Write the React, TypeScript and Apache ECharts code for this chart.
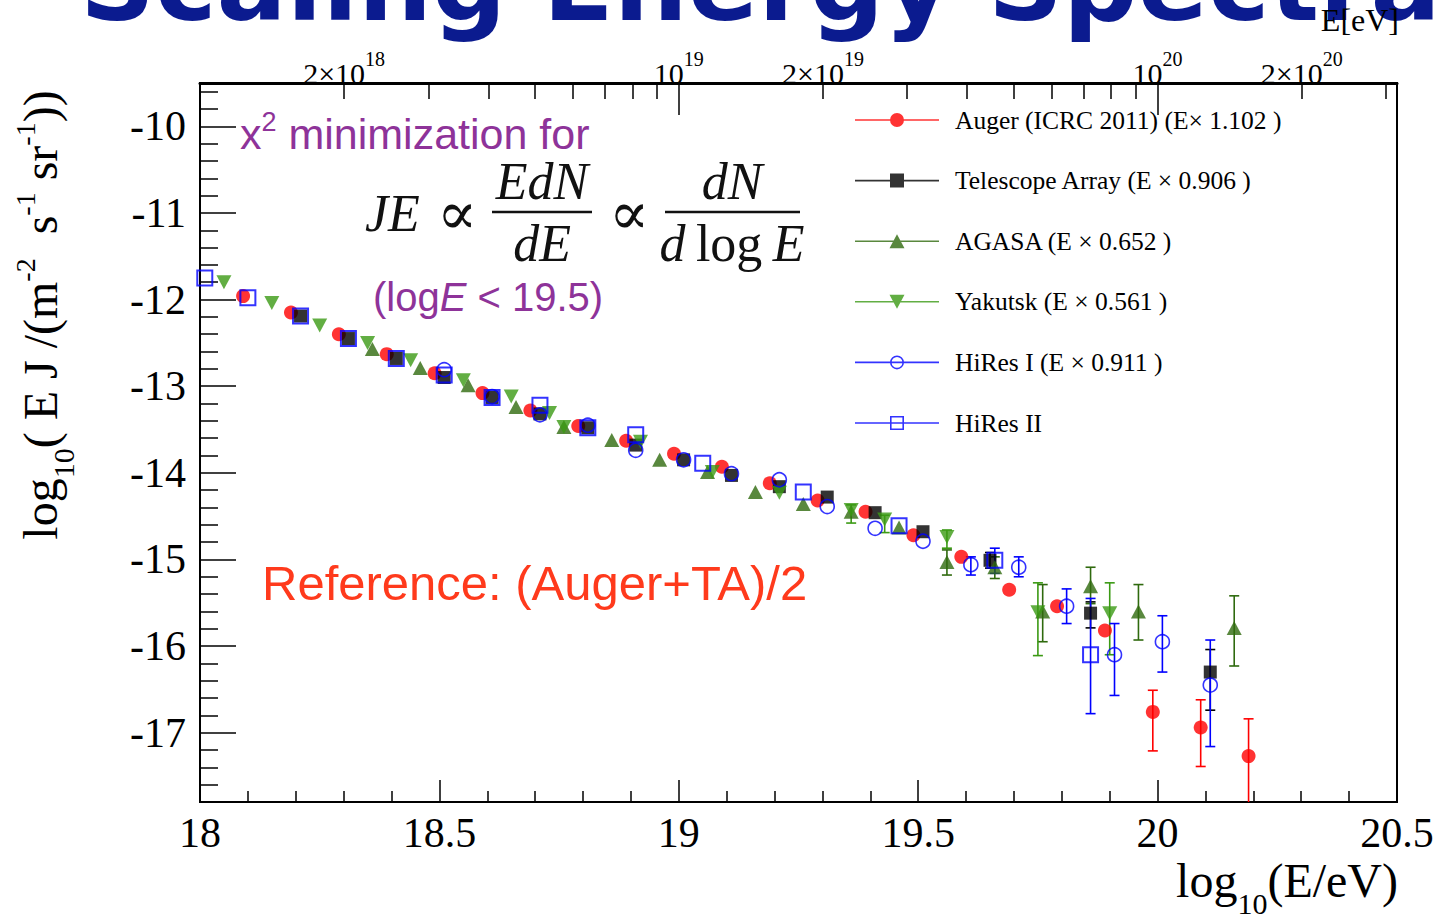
import React, { useEffect, useRef } from "react";
import * as echarts from "echarts";

// ---------- Flux points: x = log10(E/eV), y = log10(E J / (m^-2 s^-1 sr^-1)) ----------
const augerLogE = [18.09, 18.19, 18.29, 18.39, 18.49, 18.59, 18.69, 18.79, 18.89, 18.99, 19.09, 19.19, 19.29, 19.39, 19.49, 19.59, 19.69, 19.79, 19.89, 19.99, 20.09, 20.19];
const augerFlux = [-11.96, -12.15, -12.4, -12.63, -12.85, -13.08, -13.28, -13.46, -13.63, -13.78, -13.93, -14.12, -14.32, -14.45, -14.72, -14.97, -15.35, -15.54, -15.82, -16.76, -16.94, -17.27];
// error bars: [log10 E, upper edge, lower edge]
const augerErrors = [[19.99, -16.51, -17.21], [20.09, -16.62, -17.39], [20.19, -16.84, -18.3]];

const taLogE = [18.21, 18.31, 18.41, 18.51, 18.61, 18.71, 18.81, 18.91, 19.01, 19.11, 19.21, 19.31, 19.41, 19.51, 19.65, 19.86, 20.11];
const taFlux = [-12.19, -12.45, -12.68, -12.9, -13.13, -13.32, -13.48, -13.68, -13.85, -14.03, -14.16, -14.28, -14.46, -14.68, -15.01, -15.62, -16.3];
const taErrors = [[19.65, -14.92, -15.1], [19.86, -15.49, -15.79], [20.11, -16.04, -16.74]];

const agasaLogE = [18.36, 18.46, 18.56, 18.66, 18.76, 18.86, 18.96, 19.06, 19.16, 19.26, 19.36, 19.46, 19.56, 19.66, 19.76, 19.86, 19.96, 20.16];
const agasaFlux = [-12.57, -12.79, -12.99, -13.24, -13.47, -13.62, -13.85, -13.99, -14.22, -14.36, -14.45, -14.63, -15.03, -15.09, -15.6, -15.31, -15.6, -15.79];
const agasaErrors = [[19.56, -14.89, -15.18], [19.66, -14.97, -15.22], [19.76, -15.29, -15.95], [19.86, -15.09, -15.51], [19.96, -15.29, -15.93], [20.16, -15.42, -16.23]];

const yakutskLogE = [18.05, 18.15, 18.25, 18.35, 18.44, 18.55, 18.65, 18.73, 18.76, 18.92, 19.07, 19.21, 19.36, 19.43, 19.56, 19.75, 19.9];
const yakutskFlux = [-11.8, -12.04, -12.3, -12.5, -12.7, -12.93, -13.12, -13.31, -13.47, -13.64, -13.99, -14.23, -14.43, -14.54, -14.74, -15.61, -15.62];
const yakutskErrors = [[19.36, -14.37, -14.58], [19.43, -14.49, -14.69], [19.56, -14.66, -14.87], [19.75, -15.27, -16.11], [19.9, -15.27, -16.1]];

const hires1LogE = [18.51, 18.61, 18.71, 18.81, 18.91, 19.01, 19.11, 19.21, 19.31, 19.41, 19.51, 19.61, 19.71, 19.81, 19.91, 20.01, 20.11];
const hires1Flux = [-12.81, -13.12, -13.33, -13.45, -13.74, -13.85, -14.01, -14.08, -14.39, -14.64, -14.79, -15.06, -15.09, -15.54, -16.1, -15.95, -16.45];
const hires1Errors = [[19.61, -14.97, -15.18], [19.71, -14.97, -15.2], [19.81, -15.34, -15.74], [19.91, -15.74, -16.57], [20.01, -15.65, -16.3], [20.11, -15.93, -17.16]];

const hires2LogE = [18.01, 18.1, 18.21, 18.31, 18.41, 18.51, 18.61, 18.71, 18.81, 18.91, 19.05, 19.26, 19.46, 19.66, 19.86];
const hires2Flux = [-11.75, -11.98, -12.19, -12.45, -12.68, -12.87, -13.13, -13.22, -13.48, -13.56, -13.89, -14.22, -14.61, -15.01, -16.1];
const hires2Errors = [[19.66, -14.87, -15.16], [19.86, -15.45, -16.78]];

// ---------- Legend entries ----------
const legendLabels = [
  "Auger (ICRC 2011) (E× 1.102 )",
  "Telescope Array (E × 0.906 )",
  "AGASA (E × 0.652 )",
  "Yakutsk (E × 0.561 )",
  "HiRes I (E × 0.911 )",
  "HiRes II",
];

// ---------- Axis ticks ----------
const leftMajorTicks = [-17, -16, -15, -14, -13, -12, -11, -10];
const leftMinorTicks = [
  -17.6, -17.4, -17.2, -16.8, -16.6, -16.4, -16.2, -15.8, -15.6, -15.4, -15.2,
  -14.8, -14.6, -14.4, -14.2, -13.8, -13.6, -13.4, -13.2, -12.8, -12.6, -12.4, -12.2,
  -11.8, -11.6, -11.4, -11.2, -10.8, -10.6, -10.4, -10.2, -9.8, -9.6,
];
const topLabelEnergies = [2e18, 1e19, 2e19, 1e20, 2e20];
const topMinorEnergies = [2e18, 3e18, 4e18, 5e18, 6e18, 7e18, 8e18, 9e18, 2e19, 3e19, 4e19, 5e19, 6e19, 7e19, 8e19, 9e19, 2e20, 3e20];
const topMajorEnergies = [1e19, 1e20];

const SERIF = '"Liberation Serif", "Times New Roman", Times, serif';
const SANS = '"Liberation Sans", Arial, Helvetica, sans-serif';

const C_AUGER = "#ff0000";
const C_TA = "#000000";
const C_AGASA = "#2f6a0e";
const C_YAKUTSK = "#3b9a14";
const C_HIRES = "#0000ff";
const C_PURPLE = "#8e3399";
const C_REF = "#ff3a1c";
const C_MATH = "#111111";

// legend icons: horizontal line with the marker in the middle (84 x 14 box)
const LINE = "M0,6.2 L84,6.2 L84,7.8 L0,7.8 Z";
const legendIcons = [
  `path://${LINE} M35,7 A7,7 0 1 1 49,7 A7,7 0 1 1 35,7 Z`,
  `path://${LINE} M35,0 L49,0 L49,14 L35,14 Z`,
  `path://${LINE} M42,0 L49.5,14 L34.5,14 Z`,
  `path://${LINE} M34.5,0 L49.5,0 L42,14 Z`,
  `path://${LINE} M35,7 A7,7 0 1 1 49,7 A7,7 0 1 1 35,7 Z M36.6,7 A5.4,5.4 0 1 0 47.4,7 A5.4,5.4 0 1 0 36.6,7 Z`,
  `path://${LINE} M35,0 L49,0 L49,14 L35,14 Z M36.6,1.6 L36.6,12.4 L47.4,12.4 L47.4,1.6 Z`,
];
const legendColors = [C_AUGER, C_TA, C_AGASA, C_YAKUTSK, C_HIRES, C_HIRES];

const pairs = (xs: number[], ys: number[]) => xs.map((x, i) => [x, ys[i]]);

function errorBars(name: string, color: string, data: number[][]) {
  return {
    type: "custom",
    name,
    xAxisIndex: 0,
    yAxisIndex: 0,
    clip: true,
    silent: true,
    data,
    encode: { x: 0, y: [1, 2] },
    renderItem: (_params: any, api: any) => {
      const x = api.value(0);
      const hi = api.coord([x, api.value(1)]);
      const lo = api.coord([x, api.value(2)]);
      const cap = 5;
      const style = { stroke: color, lineWidth: 1.6 };
      return {
        type: "group",
        children: [
          { type: "line", shape: { x1: hi[0], y1: hi[1], x2: lo[0], y2: lo[1] }, style },
          { type: "line", shape: { x1: hi[0] - cap, y1: hi[1], x2: hi[0] + cap, y2: hi[1] }, style },
          { type: "line", shape: { x1: lo[0] - cap, y1: lo[1], x2: lo[0] + cap, y2: lo[1] }, style },
        ],
      };
    },
  };
}

function markers(name: string, data: number[][], symbol: string, size: any, itemStyle: any, rotate = 0) {
  return {
    type: "scatter",
    name,
    xAxisIndex: 0,
    yAxisIndex: 0,
    data,
    symbol,
    symbolSize: size,
    symbolRotate: rotate,
    itemStyle,
    emphasis: { disabled: true },
  };
}

// rich-text helper: every token gets the same box height H so that
// superscripts / subscripts are placed with padding alone
function tok(fontSize: number, H: number, center: number, extra: any = {}) {
  const top = Math.round(center - fontSize / 2);
  return {
    fontSize,
    lineHeight: fontSize,
    padding: [top, 0, H - fontSize - top, 0],
    ...extra,
  };
}

function topLabel(v: number) {
  const exp = Math.floor(v + 1e-9);
  const mant = Math.round(Math.pow(10, v - exp));
  return mant === 1 ? `{b|10}{s|${exp}}` : `{b|${mant}×10}{s|${exp}}`;
}

export default function App() {
  const ref = useRef<HTMLDivElement>(null);

  useEffect(() => {
    if (!ref.current) return;
    const chart = echarts.init(ref.current, null, { renderer: "svg" });

    const axisText = { fontFamily: SERIF, color: "#000" };
    const mathText = (text: string, x: number, y: number, italic = true) => ({
      type: "text",
      x,
      y,
      silent: true,
      style: {
        text,
        fontFamily: SERIF,
        fontStyle: italic ? "italic" : "normal",
        fontSize: 52,
        fill: C_MATH,
        align: "center",
        verticalAlign: "middle",
      },
    });
    const propTo = (x: number) => ({
      type: "text",
      x,
      y: 213,
      silent: true,
      style: { text: "∝", fontFamily: '"DejaVu Serif", serif', fontSize: 60, fill: C_MATH, align: "center", verticalAlign: "middle" },
    });

    const option: any = {
      animation: false,
      backgroundColor: "#ffffff",
      grid: {
        left: 200,
        right: 40,
        top: 83,
        bottom: 117,
        show: true,
        borderColor: "#000",
        borderWidth: 2,
        backgroundColor: "transparent",
        containLabel: false,
        outerBoundsMode: "none",
      },
      xAxis: [
        {
          type: "value",
          position: "bottom",
          min: 18,
          max: 20.5,
          interval: 0.5,
          axisLine: { show: true, onZero: false, lineStyle: { color: "#000", width: 2 } },
          axisTick: { show: true, inside: true, length: 22, lineStyle: { color: "#000", width: 1.5 } },
          minorTick: { show: true, splitNumber: 5, length: 11, lineStyle: { color: "#000", width: 1.5 } },
          axisLabel: { ...axisText, fontSize: 42, margin: 10, formatter: (v: number) => String(v) },
          splitLine: { show: false },
        },
        {
          type: "value",
          position: "top",
          min: 18,
          max: 20.5,
          axisLine: { show: true, onZero: false, lineStyle: { color: "#000", width: 3 } },
          axisTick: {
            show: true,
            inside: true,
            length: 16,
            customValues: topMinorEnergies.map(Math.log10),
            lineStyle: { color: "#000", width: 1.5 },
          },
          axisLabel: {
            show: true,
            margin: 0,
            customValues: topLabelEnergies.map(Math.log10),
            formatter: topLabel,
            rich: {
              b: tok(30, 40, 25, { fontFamily: SERIF, color: "#000" }),
              s: tok(20, 40, 11, { fontFamily: SERIF, color: "#000" }),
            },
          },
          splitLine: { show: false },
        },
        {
          type: "value",
          position: "top",
          min: 18,
          max: 20.5,
          axisLine: { show: false },
          axisTick: {
            show: true,
            inside: true,
            length: 32,
            customValues: topMajorEnergies.map(Math.log10),
            lineStyle: { color: "#000", width: 1.5 },
          },
          axisLabel: { show: false },
          splitLine: { show: false },
        },
      ],
      yAxis: [
        {
          type: "value",
          position: "left",
          min: -17.8,
          max: -9.5,
          axisLine: { show: true, onZero: false, lineStyle: { color: "#000", width: 2 } },
          axisTick: {
            show: true,
            inside: true,
            length: 36,
            customValues: leftMajorTicks,
            lineStyle: { color: "#000", width: 1.5 },
          },
          axisLabel: {
            ...axisText,
            fontSize: 42,
            margin: 14,
            customValues: leftMajorTicks,
            formatter: (v: number) => String(Math.round(v)),
          },
          splitLine: { show: false },
        },
        {
          type: "value",
          position: "left",
          min: -17.8,
          max: -9.5,
          axisLine: { show: false },
          axisTick: {
            show: true,
            inside: true,
            length: 18,
            customValues: leftMinorTicks,
            lineStyle: { color: "#000", width: 1.5 },
          },
          axisLabel: { show: false },
          splitLine: { show: false },
        },
      ],
      legend: {
        orient: "vertical",
        left: 855,
        top: 106,
        padding: 0,
        itemWidth: 84,
        itemHeight: 14,
        itemGap: 32.6,
        selectedMode: false,
        textStyle: { fontFamily: SERIF, fontSize: 25.5, color: "#000", lineHeight: 28, padding: [0, 0, 0, 11] },
        data: legendLabels.map((name, i) => ({
          name,
          icon: legendIcons[i],
          itemStyle: { color: legendColors[i], borderWidth: 0 },
        })),
      },
      series: [
        errorBars("auger-err", C_AUGER, augerErrors),
        markers(legendLabels[0], pairs(augerLogE, augerFlux), "circle", 14, { color: C_AUGER }),
        errorBars("ta-err", C_TA, taErrors),
        markers(legendLabels[1], pairs(taLogE, taFlux), "rect", 13, { color: C_TA }),
        errorBars("agasa-err", C_AGASA, agasaErrors),
        markers(legendLabels[2], pairs(agasaLogE, agasaFlux), "triangle", [15, 14], { color: C_AGASA }),
        errorBars("yakutsk-err", C_YAKUTSK, yakutskErrors),
        markers(legendLabels[3], pairs(yakutskLogE, yakutskFlux), "triangle", [15, 14], { color: C_YAKUTSK }, 180),
        errorBars("hires1-err", C_HIRES, hires1Errors),
        markers(legendLabels[4], pairs(hires1LogE, hires1Flux), "circle", 14, {
          color: "rgba(0,0,0,0)",
          borderColor: C_HIRES,
          borderWidth: 1.6,
        }),
        errorBars("hires2-err", C_HIRES, hires2Errors),
        markers(legendLabels[5], pairs(hires2LogE, hires2Flux), "rect", 15, {
          color: "rgba(0,0,0,0)",
          borderColor: C_HIRES,
          borderWidth: 2,
        }),
      ],
      graphic: [
        // slide heading, running off the top edge
        {
          type: "text",
          x: 80,
          y: -16,
          silent: true,
          style: {
            text: "Scaling Energy Spectra",
            fontFamily: '"DejaVu Sans", Verdana, sans-serif',
            fontWeight: "bold",
            fontSize: 104,
            fill: "#0b1b8f",
            align: "left",
            verticalAlign: "middle",
          },
        },
        {
          type: "text",
          x: 1399,
          y: 20,
          silent: true,
          style: { text: "E[eV]", fontFamily: SERIF, fontSize: 32, fill: "#000", align: "right", verticalAlign: "middle" },
        },
        // annotation: fit description
        {
          type: "text",
          x: 240,
          y: 133,
          silent: true,
          style: {
            text: "{m|x}{s|2}{m| minimization for}",
            align: "left",
            verticalAlign: "middle",
            fill: C_PURPLE,
            rich: {
              m: tok(43, 60, 30, { fontFamily: SANS, color: C_PURPLE, fill: C_PURPLE }),
              s: tok(27, 60, 18, { fontFamily: SANS, color: C_PURPLE, fill: C_PURPLE }),
            },
          },
        },
        // JE ∝ E dN/dE ∝ dN/dlogE
        {
          type: "text",
          x: 365,
          y: 213,
          silent: true,
          style: { text: "JE", fontFamily: SERIF, fontStyle: "italic", fontSize: 52, fill: C_MATH, align: "left", verticalAlign: "middle" },
        },
        propTo(457),
        mathText("EdN", 542, 181),
        {
          type: "line",
          silent: true,
          shape: { x1: 492, y1: 212, x2: 592, y2: 212 },
          style: { stroke: C_MATH, lineWidth: 2.5 },
        },
        mathText("dE", 542, 243),
        propTo(629),
        mathText("dN", 732, 181),
        {
          type: "line",
          silent: true,
          shape: { x1: 665, y1: 212, x2: 800, y2: 212 },
          style: { stroke: C_MATH, lineWidth: 2.5 },
        },
        {
          type: "text",
          x: 732,
          y: 243,
          silent: true,
          style: {
            text: "{i|d}{n|\u2009log\u2009}{i|E}",
            align: "center",
            verticalAlign: "middle",
            fill: C_MATH,
            rich: {
              i: { fontFamily: SERIF, fontStyle: "italic", fontSize: 52, color: C_MATH, fill: C_MATH },
              n: { fontFamily: SERIF, fontSize: 52, color: C_MATH, fill: C_MATH },
            },
          },
        },
        {
          type: "text",
          x: 373,
          y: 297,
          silent: true,
          style: {
            text: "{n|(log}{i|E}{n| < 19.5)}",
            align: "left",
            verticalAlign: "middle",
            fill: C_PURPLE,
            rich: {
              n: { fontFamily: SANS, fontSize: 40, color: C_PURPLE, fill: C_PURPLE },
              i: { fontFamily: SANS, fontStyle: "italic", fontSize: 40, color: C_PURPLE, fill: C_PURPLE },
            },
          },
        },
        {
          type: "text",
          x: 262,
          y: 583,
          silent: true,
          style: {
            text: "Reference: (Auger+TA)/2",
            fontFamily: SANS,
            fontSize: 49,
            fill: C_REF,
            align: "left",
            verticalAlign: "middle",
          },
        },
        // y-axis title (rotated)
        {
          type: "text",
          x: 40,
          y: 315,
          rotation: Math.PI / 2,
          silent: true,
          style: {
            text: "{m|log}{b|10}{m|( E J /(m}{s|-2}{m|  s}{s|-1}{m| sr}{s|-1}{m|))}",
            align: "center",
            verticalAlign: "middle",
            fill: "#000",
            rich: {
              m: tok(48, 80, 40, { fontFamily: SERIF, color: "#000" }),
              s: tok(28, 80, 25, { fontFamily: SERIF, color: "#000" }),
              b: tok(30, 80, 63, { fontFamily: SERIF, color: "#000" }),
            },
          },
        },
        // x-axis title
        {
          type: "text",
          x: 1398,
          y: 880,
          silent: true,
          style: {
            text: "{m|log}{b|10}{m|(E/eV)}",
            align: "right",
            verticalAlign: "middle",
            fill: "#000",
            rich: {
              m: tok(48, 80, 40, { fontFamily: SERIF, color: "#000" }),
              b: tok(30, 80, 63, { fontFamily: SERIF, color: "#000" }),
            },
          },
        },
      ],
    };

    chart.setOption(option);
    return () => {
      chart.dispose();
    };
  }, []);

  return (
    <div
      ref={ref}
      style={{ position: "fixed", left: 0, top: 0, width: 1437, height: 919, background: "#fff" }}
    />
  );
}
